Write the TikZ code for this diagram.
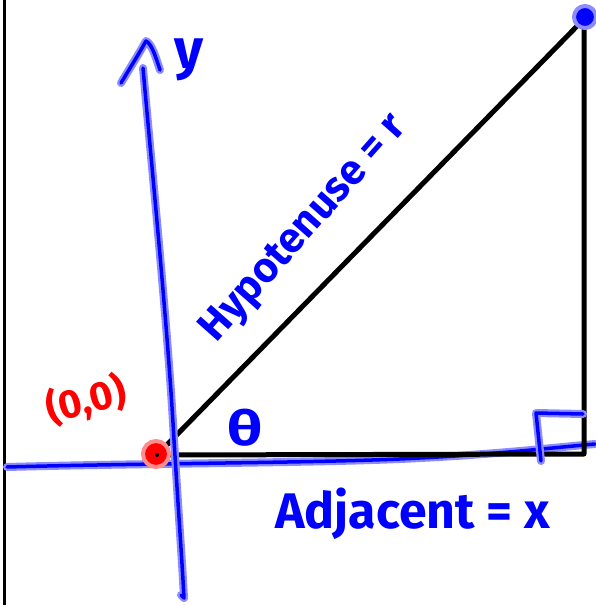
\documentclass[tikz,border=0pt]{standalone}
\usepackage{fontspec}
\setmainfont{Fira Sans}
\begin{document}
\begin{tikzpicture}[x=1pt,y=-1pt,
  halo/.style={draw=blue!45,line width=8pt,line cap=round,line join=round},
  pen/.style={draw=blue,line width=3.5pt,line cap=round,line join=round},
  edge/.style={draw=black,line width=5pt,line cap=round,line join=round},
  bluetext/.style={text=blue,font=\bfseries\fontsize{#1}{#1}\selectfont,inner sep=0pt},
  redtext/.style={text=red,font=\bfseries\fontsize{#1}{#1}\selectfont,inner sep=0pt}]
\useasboundingbox (0,0) rectangle (595,605);
\fill[white] (0,0) rectangle (595,605);
% left frame line
\coordinate (FT) at (4,0);
\coordinate (FB) at (4,605);
\draw[black,line width=3pt] (FT) -- (FB);
% key points
\coordinate (O) at (157,455);
\coordinate (A) at (584,19);
\coordinate (C) at (584,454);
% x-axis
\coordinate (XL) at (7,467);
\coordinate (XR) at (595,444);
\foreach \s in {halo,pen}
  \draw[\s] (XL) .. controls (150,463) and (330,463) .. (420,458) .. controls (500,454) and (560,447) .. (XR);
% triangle
\draw[edge] (O) -- (A) -- (C) -- cycle;
% y-axis
\coordinate (YT) at (143,68);
\coordinate (YB) at (184,598);
\foreach \s in {halo,pen} {
  \draw[\s] (YT) .. controls (152,170) and (168,330) .. (174,440) .. controls (179,520) and (182,560) .. (YB) -- (181,595);
  \draw[\s] (121,83) .. controls (130,68) and (140,52) .. (146,41) .. controls (152,44) and (156,58) .. (160,70);
}
% right angle mark
\coordinate (R1) at (583,414);
\coordinate (R2) at (536,413);
\coordinate (R3) at (541,461);
\foreach \s in {halo,pen}
  \draw[\s] (R1) -- (R2) -- (R3);
% dots
\node[circle,fill=blue,draw=blue!45,line width=4pt,minimum size=22pt,inner sep=0pt] (Adot) at (585,17) {};
\node[circle,fill=red,draw=red!45,line width=4pt,minimum size=26pt,inner sep=0pt] (Odot) at (156,454) {};
\fill[black] (O) circle (2pt);
% labels
\node[bluetext=56] (ylab) at (189,60) {y};
\node[redtext=40,rotate=15] (olab) at (86,400) {(0,0)};
\node[bluetext=48,xscale=1.3] (theta) at (245,428) {θ};
\node[bluetext=42,rotate=48.5,anchor=base] (hyp) at (312,236) {Hypotenuse = r};
\node[bluetext=50,anchor=base west] (adj) at (275,528) {Adjacent = x};
\end{tikzpicture}
\end{document}
